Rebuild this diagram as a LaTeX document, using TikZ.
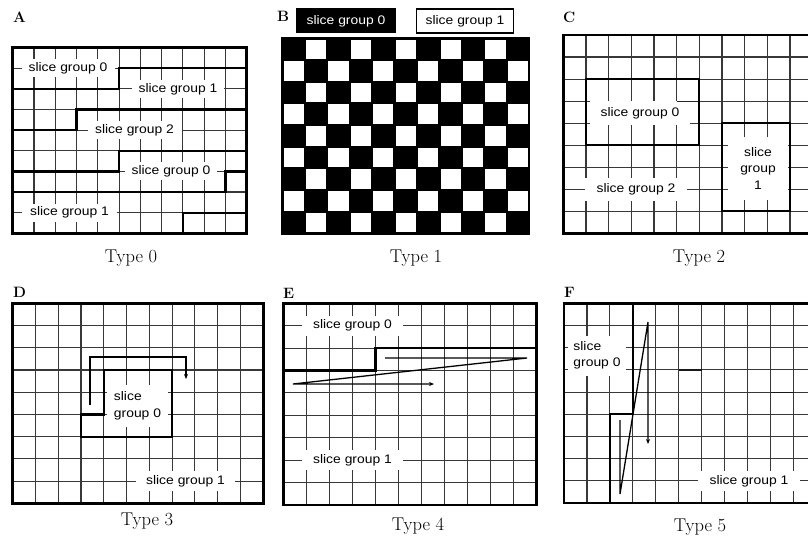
\documentclass[tikz,border=0pt]{standalone}
\usepackage{fontspec}
\newfontfamily\labfam[FakeStretch=1.12]{Liberation Sans}
\usetikzlibrary{arrows.meta}
\tikzset{
  gridln/.style={draw=black!78, line width=1.1pt},
  frameln/.style={draw=black, line width=2.6pt},
  bound/.style={draw=black, line width=2.2pt},
  lab/.style={fill=white, inner xsep=0pt, inner ysep=0pt, font=\labfam\fontsize{12.4}{15}\selectfont, text height=9pt, text depth=2.6pt, minimum height=18pt},
  labm/.style={fill=white, inner xsep=0pt, inner ysep=0pt, font=\labfam\fontsize{12.4}{16.5}\selectfont},
  panelletter/.style={font=\bfseries\fontsize{15}{16}\selectfont, anchor=base west, inner sep=0pt},
  caption/.style={font=\fontsize{18.5}{20}\selectfont, anchor=base, inner sep=0pt},
  scanarrow/.style={draw=black, line width=1.3pt, line join=miter, -{Stealth[length=5pt,width=4pt]}},
  PA/.style={shift={(12.7,47.7)}, xscale=21.27, yscale=20.62},
  PB/.style={shift={(282.3,38.3)}, xscale=22.45, yscale=21.67},
  PC/.style={shift={(563.3,35)}, xscale=22.67, yscale=22.04},
  PD/.style={shift={(12.7,303.3)}, xscale=22.78, yscale=22.22},
  PE/.style={shift={(283.3,303.3)}, xscale=23.03, yscale=22.4},
  PF/.style={shift={(564,303.3)}, xscale=22.95, yscale=22.2}
}
\newcommand\fmogrid{%
  \foreach \i in {1,...,10} {\draw[gridln] (\i,0) -- (\i,9);}
  \foreach \j in {1,...,8} {\draw[gridln] (0,\j) -- (11,\j);}
}
\begin{document}
\begin{tikzpicture}[x=1pt,y=-1pt]
\useasboundingbox (0,0) rectangle (808,541);
\clip (0,0) rectangle (808,541);
\fill[white] (0,0) rectangle (808,541);

% ---------------- Panel A ----------------
\node[panelletter] (LA) at (13,22) {A};
\begin{scope}[PA] \fmogrid \end{scope}
\node[lab, minimum width=93pt] (a1) at (68,68.3) {slice group 0};
\node[lab, minimum width=92pt] (a2) at (178,88.9) {slice group 1};
\node[lab, minimum width=94pt] (a3) at (134.5,130.2) {slice group 2};
\node[lab, minimum width=92pt] (a4) at (171,171.4) {slice group 0};
\node[lab, minimum width=95pt] (a5) at (69.5,212.7) {slice group 1};
\begin{scope}[PA]
  \draw[bound] (11,1) -- (5,1) -- (5,2) -- (0,2);
  \draw[bound] (11,3) -- (3,3) -- (3,4) -- (0,4);
  \draw[bound] (11,5) -- (5,5) -- (5,6) -- (0,6);
  \draw[bound] (11,6) -- (10,6) -- (10,7) -- (0,7);
  \draw[bound] (11,8) -- (8,8) -- (8,9);
  \draw[frameln] (0,0) rectangle (11,9);
\end{scope}
\node[caption] (TA) at (131,262.5) {Type 0};

% ---------------- Panel B ----------------
\node[panelletter] (LB) at (277,21) {B};
\node[fill=black, text=white, font=\labfam\fontsize{12.4}{15}\selectfont, minimum width=100pt, minimum height=25pt, inner sep=0pt] (b0) at (346,20.8) {slice group 0};
\node[fill=white, draw=black, line width=1.5pt, font=\labfam\fontsize{12.4}{15}\selectfont, minimum width=97pt, minimum height=24pt, inner sep=0pt] (b1) at (465,20.8) {slice group 1};
\begin{scope}[PB]
  \fill[black] (0,0) rectangle (11,9);
  \foreach \r in {0,...,8} {
    \foreach \c in {0,...,10} {
      \pgfmathtruncatemacro\chkodd{mod(\r+\c,2)}
      \ifnum\chkodd=1
        \fill[white] ({\c+0.05},{\r+0.05}) rectangle ({\c+0.95},{\r+0.95});
      \fi
    }
  }
  \draw[black, line width=2.4pt] (0,0) rectangle (11,9);
\end{scope}
\node[caption] (TB) at (416,262.5) {Type 1};

% ---------------- Panel C ----------------
\node[panelletter] (LC) at (563,22.5) {C};
\begin{scope}[PC] \fmogrid \end{scope}
\node[lab, minimum width=100pt, minimum height=24pt] (c0) at (640,113) {slice group 0};
\node[lab, minimum width=102pt, minimum height=23pt] (c2) at (636,189.5) {slice group 2};
\node[labm, align=center, minimum width=60pt, minimum height=63pt] (c1) at (758,168.5) {slice\\group\\1};
\begin{scope}[PC]
  \draw[black!85, line width=1.1pt] (5,3) -- (6,3);
  \draw[bound] (1,2) rectangle (6,5);
  \draw[bound] (7,4) rectangle (10,8);
  \draw[frameln] (0,0) rectangle (11,9);
\end{scope}
\node[caption] (TC) at (699,262) {Type 2};

% ---------------- Panel D ----------------
\node[panelletter] (LD) at (13,297) {D};
\begin{scope}[PD] \fmogrid \end{scope}
\node[labm, align=left, minimum width=61pt, minimum height=42pt] (d0) at (137.5,406) {slice\\group 0};
\node[lab, minimum width=99pt, minimum height=20pt] (d1) at (185.5,481) {slice group 1};
\begin{scope}[PD]
  \draw[bound] (4,3) -- (7,3) -- (7,6) -- (3,6) -- (3,5) -- (4,5) -- cycle;
  \draw[frameln] (0,0) rectangle (11,9);
\end{scope}
\coordinate (dA) at (90,405);
\coordinate (dB) at (90,357);
\coordinate (dC) at (186,357);
\coordinate (dD) at (186,379);
\draw[scanarrow] (dA) -- (dB) -- (dC) -- (dD);
\node[caption] (TD) at (147,525.5) {Type 3};

% ---------------- Panel E ----------------
\node[panelletter] (LE) at (283,298) {E};
\begin{scope}[PE] \fmogrid \end{scope}
\node[lab, minimum width=101pt, minimum height=20pt] (e0) at (352.5,325.7) {slice group 0};
\node[lab, minimum width=101pt, minimum height=20pt] (e1) at (352.5,460) {slice group 1};
\begin{scope}[PE]
  \draw[bound] (0,3) -- (4,3) -- (4,2) -- (11,2);
  \draw[frameln] (0,0) rectangle (11,9);
\end{scope}
\coordinate (eA) at (385,358);
\coordinate (eB) at (527,358);
\coordinate (eC) at (293,384);
\coordinate (eD) at (434,384);
\draw[scanarrow] (eA) -- (eB) -- (eC) -- (eD);
\node[caption] (TE) at (418,530) {Type 4};

% ---------------- Panel F ----------------
\node[panelletter] (LF) at (564,297) {F};
\begin{scope}[PF] \fmogrid \end{scope}
\node[labm, align=left, minimum width=58pt, minimum height=40pt] (f0) at (597,355.5) {slice\\group 0};
\node[lab, minimum width=102pt, minimum height=20pt] (f1) at (749,480.9) {slice group 1};
\begin{scope}[PF]
  \draw[black!90, line width=1.2pt] (5,3) -- (6,3);
  \draw[black!90, line width=1.2pt] (9,4) -- (10,4);
  \draw[bound] (3,0) -- (3,5) -- (2,5) -- (2,9);
  \draw[frameln] (0,0) rectangle (11,9);
\end{scope}
\coordinate (fA) at (620,420);
\coordinate (fB) at (620,494);
\coordinate (fC) at (648,322);
\coordinate (fD) at (648,444);
\draw[scanarrow] (fA) -- (fB) -- (fC) -- (fD);
\node[caption] (TF) at (700,531) {Type 5};
\end{tikzpicture}
\end{document}
